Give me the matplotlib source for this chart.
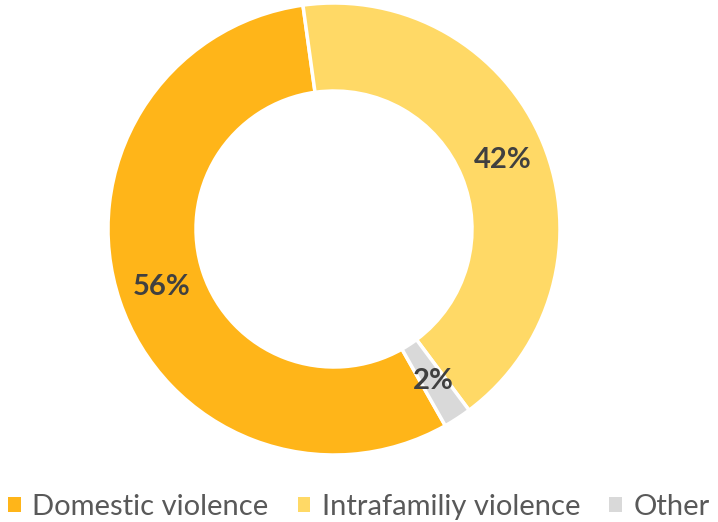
import matplotlib
matplotlib.use("Agg")
import matplotlib.pyplot as plt
from matplotlib.patches import Patch

categories = ["Domestic violence", "Intrafamiliy violence", "Other"]
values = [56, 42, 2]
colors = ["#FFB519", "#FFD966", "#D9D9D9"]

plt.rcParams['font.family'] = ['Lato', 'DejaVu Sans']

fig = plt.figure(figsize=(7.18, 5.22), dpi=100)
ax = fig.add_axes([0, 0, 1, 1])

R = 226
W = 88
wedges, texts, autotexts = ax.pie(
    values, colors=colors, center=(334, 522 - 229), radius=R,
    startangle=-60.5, counterclock=False,
    wedgeprops=dict(width=W, edgecolor='white', linewidth=2.5),
    autopct=lambda p: f"{p:.0f}%", pctdistance=(R - W / 2) / R,
    textprops=dict(color='#404040', fontsize=21, fontweight='bold'),
    frame=True)
ax.set_xlim(0, 718)
ax.set_ylim(0, 522)
ax.set_aspect('equal')
ax.axis('off')

handles = [Patch(facecolor=c, edgecolor='none') for c in colors]
fig.legend(handles, categories, loc='center', bbox_to_anchor=(0.5, 1 - 507 / 522),
           ncol=3, frameon=False, fontsize=21, labelcolor='#595959',
           handlelength=0.42, handleheight=0.42, handletextpad=0.4, columnspacing=1.0)

fig.savefig("out.png", dpi=100)
